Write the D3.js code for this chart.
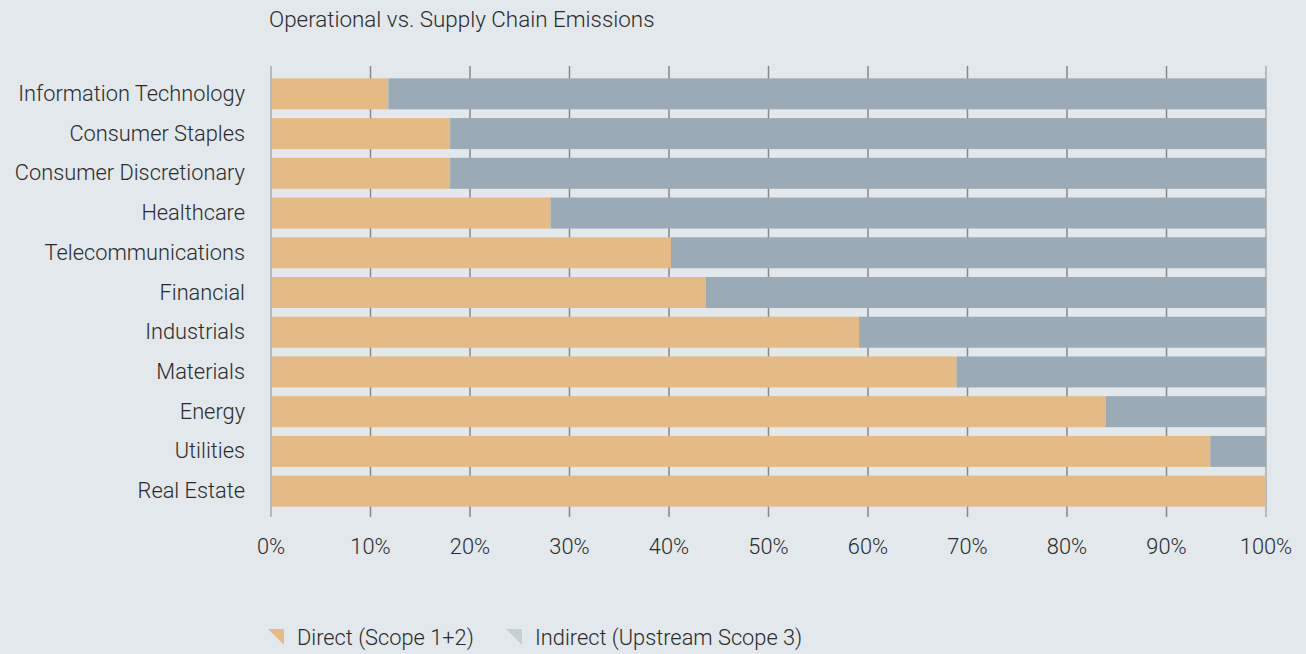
<!DOCTYPE html>
<html>
<head>
<meta charset="utf-8">
<script src="https://cdn.jsdelivr.net/npm/d3@7"></script>
<style>
  body { margin: 0; background: #e2e8ec; }
  svg { display: block; font-family: Roboto, "Liberation Sans", sans-serif; font-weight: 300; }
  .cat_labels { font-size: 21.8px; fill: #2b2b2b; text-anchor: end; }
  .tick_labels { font-size: 21.8px; fill: #2b2b2b; text-anchor: middle; }
  .legend_labels { font-size: 21.8px; fill: #2b2b2b; }
</style>
</head>
<body>
<svg id="svg-emissions" width="1306" height="654"></svg>
<script>
var svg = d3.select("#svg-emissions");
var sectors = ["Information Technology", "Consumer Staples", "Consumer Discretionary", "Healthcare",
               "Telecommunications", "Financial", "Industrials", "Materials", "Energy", "Utilities", "Real Estate"];
var direct = [11.8, 18.0, 18.0, 28.1, 40.2, 43.7, 59.1, 68.9, 83.9, 94.4, 100];
var indirect = [88.2, 82.0, 82.0, 71.9, 59.8, 56.3, 40.9, 31.1, 16.1, 5.6, 0];
var ticks = [0, 10, 20, 30, 40, 50, 60, 70, 80, 90, 100];
var seriesNames = ["Direct (Scope 1+2)", "Indirect (Upstream Scope 3)"];

var orange = "#e5ba84";
var slate = "#9aaab6";

var xScale = d3.scaleLinear()
               .domain([0, 100])
               .range([271, 1266]);
var yScale = d3.scaleBand()
               .domain(sectors)
               .range([74, 511])
               .paddingInner(0.22)
               .paddingOuter(0.11);

svg.append("text")
    .attr("x", 269)
    .attr("y", 27)
    .text("Operational vs. Supply Chain Emissions")
    .style("font-size", "22.4px")
    .style("fill", "#2b2b2b");

// grid lines behind bars
svg.selectAll("gridlines")
    .data(ticks)
    .enter()
    .append("line")
    .attr("x1", function(d) { return xScale(d); })
    .attr("x2", function(d) { return xScale(d); })
    .attr("y1", 66)
    .attr("y2", 517)
    .style("stroke", function(d) { return (d == 0 || d == 100) ? "#a4aaaf" : "#86898c"; })
    .style("stroke-width", 1.5);

svg.selectAll("direct_bars")
    .data(sectors)
    .enter()
    .append("rect")
    .attr("x", xScale(0) + 1)
    .attr("y", function(d) { return yScale(d); })
    .attr("width", function(d, i) { return xScale(direct[i]) - xScale(0) - 1; })
    .attr("height", yScale.bandwidth())
    .style("fill", orange);

svg.selectAll("indirect_bars")
    .data(sectors)
    .enter()
    .append("rect")
    .attr("x", function(d, i) { return xScale(direct[i]); })
    .attr("y", function(d) { return yScale(d); })
    .attr("width", function(d, i) { return xScale(direct[i] + indirect[i]) - xScale(direct[i]); })
    .attr("height", yScale.bandwidth())
    .style("fill", slate);

svg.selectAll("cat_labels")
    .data(sectors)
    .enter()
    .append("text")
    .attr("class", "cat_labels")
    .attr("x", 245)
    .attr("y", function(d) { return yScale(d) + yScale.bandwidth() / 2 + 7; })
    .text(function(d) { return d; });

svg.selectAll("tick_labels")
    .data(ticks)
    .enter()
    .append("text")
    .attr("class", "tick_labels")
    .attr("x", function(d) { return xScale(d); })
    .attr("y", 554)
    .text(function(d) { return d + "%"; });

// legend with folded-corner triangles
var legendX = [268, 506];
var legendColors = [orange, "#c5d0d5"];
svg.selectAll("legend_marks")
    .data(seriesNames)
    .enter()
    .append("path")
    .attr("d", function(d, i) {
      var x = legendX[i];
      return "M" + x + ",629 L" + (x + 16) + ",629 L" + (x + 16) + ",645 Z";
    })
    .style("fill", function(d, i) { return legendColors[i]; });
svg.selectAll("legend_labels")
    .data(seriesNames)
    .enter()
    .append("text")
    .attr("class", "legend_labels")
    .attr("x", function(d, i) { return legendX[i] + 29; })
    .attr("y", 645)
    .text(function(d) { return d; });
</script>
</body>
</html>
